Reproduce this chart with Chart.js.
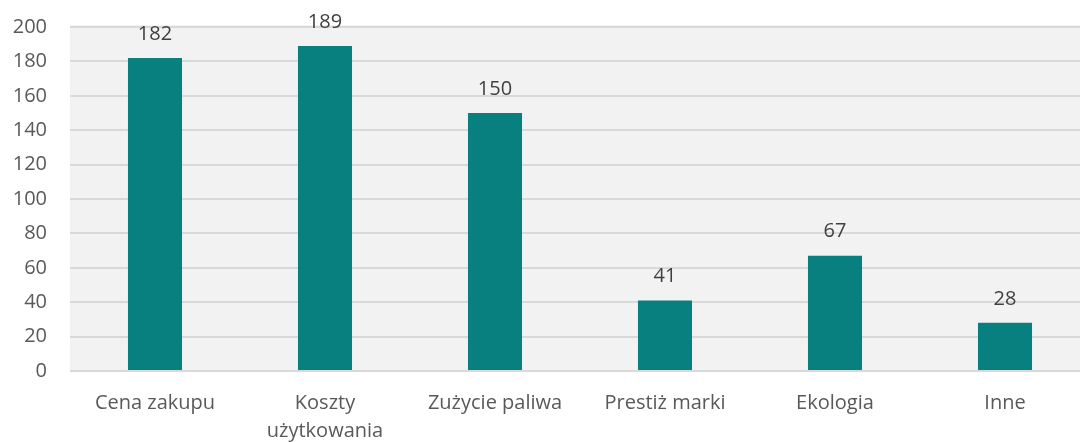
<!DOCTYPE html>
<html><head><meta charset="utf-8">
<script src="https://cdn.jsdelivr.net/npm/chart.js@4/dist/chart.umd.min.js"></script>
<style>html,body{margin:0;padding:0;background:#fff;overflow:hidden;width:1080px;height:442px}</style>
</head><body>
<canvas id="c" width="1090" height="442" style="width:1090px;height:442px;display:block"></canvas>
<script>
const categories = ["Cena zakupu", ["Koszty", "użytkowania"], "Zużycie paliwa", "Prestiż marki", "Ekologia", "Inne"];
const values = [182, 189, 150, 41, 67, 28];
const yTicks = [0, 20, 40, 60, 80, 100, 120, 140, 160, 180, 200];

const FONT = "'Open Sans', sans-serif";
const bgPlugin = {
  id: 'bg',
  beforeDraw(chart) {
    const {ctx, chartArea: a} = chart;
    ctx.save(); ctx.fillStyle = '#f2f2f2';
    ctx.fillRect(a.left, a.top - 2, a.right - a.left, a.bottom - a.top + 3);
    ctx.restore();
  }
};
const labelPlugin = {
  id: 'vals',
  afterDatasetsDraw(chart) {
    const {ctx} = chart;
    const meta = chart.getDatasetMeta(0);
    ctx.save();
    ctx.font = "20px " + FONT; ctx.fillStyle = '#404040';
    ctx.textAlign = 'center'; ctx.textBaseline = 'middle';
    meta.data.forEach((bar, i) => {
      ctx.fillText(String(values[i]), bar.x, bar.y - 24);
    });
    ctx.restore();
  }
};
new Chart(document.getElementById('c'), {
  type: 'bar',
  data: { labels: categories, datasets: [{ data: values, backgroundColor: '#088080', borderWidth: 0, barPercentage: 0.318, categoryPercentage: 1 }] },
  options: {
    responsive: false, animation: false,
    layout: { padding: { top: 27, right: 0, left: 0, bottom: 0 } },
    plugins: { legend: { display: false }, tooltip: { enabled: false } },
    scales: {
      x: {
        grid: { display: false, drawTicks: false }, border: { display: false },
        ticks: { color: '#595959', font: { family: FONT, size: 20, lineHeight: 1.4 }, padding: 18, maxRotation: 0 },
        afterFit(s) { s.height = 71; s.paddingLeft = 0; s.paddingRight = 0; }
      },
      y: {
        min: 0, max: 200,
        afterBuildTicks(s) { s.ticks = yTicks.map(v => ({ value: v })); },
        grid: { color: '#d9d9d9', lineWidth: 2, drawTicks: false },
        border: { display: false },
        ticks: { color: '#595959', font: { family: FONT, size: 20 }, padding: 23 },
        afterFit(s) { s.width = 70; s.paddingTop = 0; s.paddingBottom = 0; }
      }
    }
  },
  plugins: [bgPlugin, labelPlugin]
});
</script>
</body></html>
